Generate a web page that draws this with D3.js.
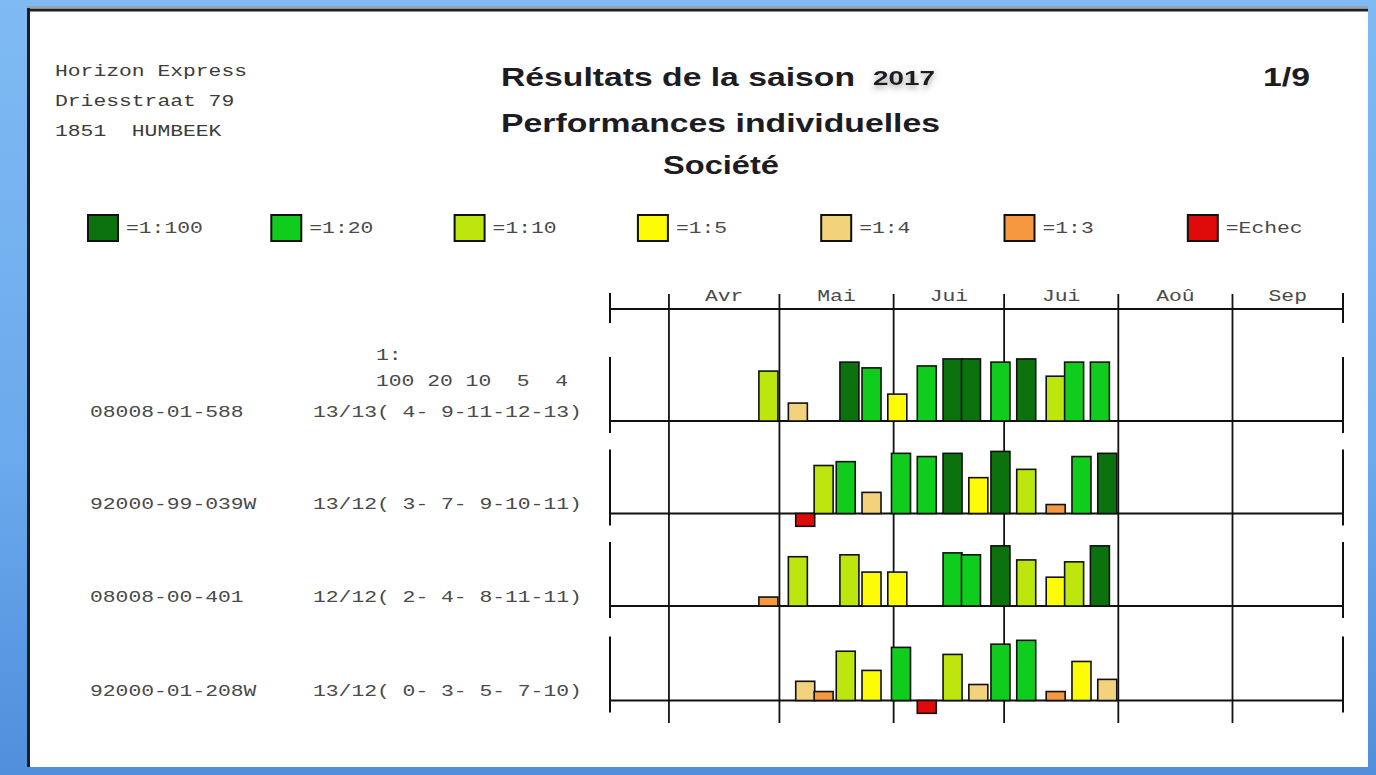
<!DOCTYPE html>
<html>
<head>
<meta charset="utf-8">
<script src="https://cdn.jsdelivr.net/npm/d3@7"></script>
<style>
  body { margin: 0; overflow: hidden; }
</style>
</head>
<body>
<svg id="chart" width="1376" height="775"></svg>
<script>
// ---- data ----
const clubLines = ["Horizon Express", "Driesstraat 79", "1851  HUMBEEK"];
const season = "2017";
const pageLabel = "1/9";

const legendCodes = ["100", "20", "10", "5", "4", "3", "E"];
const legendLabels = ["=1:100", "=1:20", "=1:10", "=1:5", "=1:4", "=1:3", "=Echec"];

const monthStarts = ["2017-04-01", "2017-05-01", "2017-06-01", "2017-07-01", "2017-08-01", "2017-09-01"];
const monthLabels = ["Avr", "Mai", "Jui", "Jui", "Aoû", "Sep"];

const rings = ["08008-01-588", "92000-99-039W", "08008-00-401", "92000-01-208W"];
const summaries = ["13/13( 4- 9-11-12-13)", "13/12( 3- 7- 9-10-11)", "12/12( 2- 4- 8-11-11)", "13/12( 0- 3- 5- 7-10)"];

// row 1
const dates1 = ["2017-04-28", "2017-05-06", "2017-05-20", "2017-05-26", "2017-06-02", "2017-06-10", "2017-06-17",
                "2017-06-22", "2017-06-30", "2017-07-07", "2017-07-15", "2017-07-20", "2017-07-27"];
const codes1 = ["10", "4", "100", "20", "5", "20", "100", "100", "20", "100", "10", "20", "20"];
const vals1  = [78, 28, 92, 83, 42, 86, 97, 97, 92, 97, 70, 92, 92];
// row 2
const dates2 = ["2017-05-08", "2017-05-13", "2017-05-19", "2017-05-26", "2017-06-03", "2017-06-10", "2017-06-17",
                "2017-06-24", "2017-06-30", "2017-07-07", "2017-07-15", "2017-07-22", "2017-07-29"];
const codes2 = ["E", "10", "20", "4", "20", "20", "100", "5", "100", "10", "3", "20", "100"];
const vals2  = [-20, 75, 81, 33, 94, 89, 94, 56, 97, 69, 14, 89, 94];
// row 3
const dates3 = ["2017-04-28", "2017-05-06", "2017-05-20", "2017-05-26", "2017-06-02", "2017-06-17",
                "2017-06-22", "2017-06-30", "2017-07-07", "2017-07-15", "2017-07-20", "2017-07-27"];
const codes3 = ["3", "10", "10", "5", "5", "20", "20", "100", "10", "5", "10", "100"];
const vals3  = [14, 77, 80, 53, 53, 83, 80, 94, 72, 45, 69, 94];
// row 4
const dates4 = ["2017-05-08", "2017-05-13", "2017-05-19", "2017-05-26", "2017-06-03", "2017-06-10", "2017-06-17",
                "2017-06-24", "2017-06-30", "2017-07-07", "2017-07-15", "2017-07-22", "2017-07-29"];
const codes4 = ["4", "3", "10", "5", "20", "E", "10", "4", "20", "20", "3", "5", "4"];
const vals4  = [30, 14, 77, 47, 83, -20, 72, 25, 88, 94, 14, 61, 33];

const rowDates = [dates1, dates2, dates3, dates4];
const rowCodes = [codes1, codes2, codes3, codes4];
const rowVals = [vals1, vals2, vals3, vals4];

// ---- drawing ----
const svg = d3.select("#chart");
const parse = d3.utcParse("%Y-%m-%d");
const ink = "#111";
const mono = "'Courier New', 'Liberation Mono', monospace";
const sans = "Arial, 'Liberation Sans', sans-serif";
const charW = 12.8;

const color = d3.scaleOrdinal()
  .domain(legendCodes)
  .range(["#0b720d", "#10cc1c", "#bde60f", "#fdfb05", "#f3d27c", "#f5983f", "#e00a0a"]);

const x = d3.scaleUtc()
  .domain([parse("2017-03-16"), parse("2017-10-01")])
  .range([610, 1343]);

const h = d3.scaleLinear().domain([0, 100]).range([0, 64]);

// background + page
const defs = svg.append("defs");
const bg = defs.append("linearGradient").attr("id", "bg")
  .attr("x1", 0).attr("y1", 0).attr("x2", 0).attr("y2", 1);
bg.append("stop").attr("offset", "0%").attr("stop-color", "#7fbaf3");
bg.append("stop").attr("offset", "60%").attr("stop-color", "#6aa9ec");
bg.append("stop").attr("offset", "100%").attr("stop-color", "#4f8fdc");
const shadow = defs.append("filter").attr("id", "shadow")
  .attr("x", "-30%").attr("y", "-30%").attr("width", "160%").attr("height", "180%");
shadow.append("feDropShadow").attr("dx", 0).attr("dy", 3).attr("stdDeviation", 3)
  .attr("flood-color", "#777").attr("flood-opacity", 0.7);

svg.append("rect").attr("width", 1376).attr("height", 775).attr("fill", "url(#bg)");
svg.append("rect").attr("x", 27).attr("y", 8).attr("width", 1341).attr("height", 759).attr("fill", "#fff");
svg.append("line").attr("x1", 27).attr("x2", 1368).attr("y1", 7).attr("y2", 7)
  .attr("stroke", "#9aa4ae").attr("stroke-width", 2);
svg.append("line").attr("x1", 27).attr("x2", 1368).attr("y1", 10).attr("y2", 10)
  .attr("stroke", "#1b1f24").attr("stroke-width", 3);
svg.append("line").attr("x1", 28.5).attr("x2", 28.5).attr("y1", 8).attr("y2", 767)
  .attr("stroke", "#1b1f24").attr("stroke-width", 3);

function monoText(str, tx, ty, fill) {
  return svg.append("text")
    .attr("x", tx).attr("y", ty)
    .attr("font-family", mono).attr("font-size", 16)
    .attr("fill", fill || "#4a4a4a")
    .attr("textLength", str.length * charW)
    .attr("lengthAdjust", "spacingAndGlyphs")
    .attr("xml:space", "preserve")
    .style("white-space", "pre")
    .text(str);
}

function titleText(str, tx, ty, size, len) {
  return svg.append("text")
    .attr("x", tx).attr("y", ty)
    .attr("font-family", sans).attr("font-weight", "bold").attr("font-size", size)
    .attr("fill", "#1c1c22")
    .attr("textLength", len).attr("lengthAdjust", "spacingAndGlyphs")
    .text(str);
}

// club address
clubLines.forEach((s, i) => monoText(s, 55, 76 + i * 30, "#3c3c3c"));

// titles
titleText("Résultats de la saison", 501, 86, 26, 354);
titleText(season, 873, 85, 21, 62).attr("filter", "url(#shadow)");
titleText("Performances individuelles", 501, 132, 26, 439);
titleText("Société", 663, 174, 26, 116);
titleText(pageLabel, 1263, 86, 26, 47);

// legend
const legend = svg.selectAll("g.legend")
  .data(legendCodes)
  .enter().append("g")
  .attr("class", "legend")
  .attr("transform", (d, i) => `translate(${88 + i * 183.3},215)`);
legend.append("rect")
  .attr("width", 30).attr("height", 26)
  .attr("fill", d => color(d))
  .attr("stroke", ink).attr("stroke-width", 2);
legend.each(function(d, i) {
  const s = legendLabels[i];
  d3.select(this).append("text")
    .attr("x", 38).attr("y", 18)
    .attr("font-family", mono).attr("font-size", 16).attr("fill", "#4a4a4a")
    .attr("textLength", s.length * charW).attr("lengthAdjust", "spacingAndGlyphs")
    .text(s);
});

// time header
const headerY = 309;
const gridTop = 294, gridBottom = 723;
svg.append("line")
  .attr("x1", x.range()[0]).attr("x2", x.range()[1])
  .attr("y1", headerY).attr("y2", headerY)
  .attr("stroke", ink).attr("stroke-width", 2);
svg.selectAll("line.end")
  .data(x.range())
  .enter().append("line").attr("class", "end")
  .attr("x1", d => d).attr("x2", d => d)
  .attr("y1", 293).attr("y2", 323)
  .attr("stroke", ink).attr("stroke-width", 2);

const starts = monthStarts.map(parse);
svg.selectAll("line.month")
  .data(starts)
  .enter().append("line").attr("class", "month")
  .attr("x1", d => x(d)).attr("x2", d => x(d))
  .attr("y1", gridTop).attr("y2", gridBottom)
  .attr("stroke", ink).attr("stroke-width", 1.8);

svg.selectAll("text.month")
  .data(starts)
  .enter().append("text").attr("class", "month")
  .attr("x", d => (x(d) + x(d3.utcMonth.offset(d, 1))) / 2)
  .attr("y", 301)
  .attr("text-anchor", "middle")
  .attr("font-family", mono).attr("font-size", 16).attr("fill", "#4a4a4a")
  .attr("textLength", (d, i) => monthLabels[i].length * charW)
  .attr("lengthAdjust", "spacingAndGlyphs")
  .text((d, i) => monthLabels[i]);

// column header for the prize counts
monoText("1:", 376, 360);
monoText("100 20 10  5  4", 376, 386);

// rows
const rowBase = [421, 513.5, 606, 700.5];
const barW = 19;

rowBase.forEach((base, r) => {
  monoText(rings[r], 90, base - 4.5);
  monoText(summaries[r], 313, base - 4.5);

  const rows = rowDates[r].map((d, i) => ({
    date: parse(d), code: rowCodes[r][i], value: rowVals[r][i]
  }));

  const g = svg.append("g").attr("class", "row");
  g.selectAll("line.tick")
    .data(x.range())
    .enter().append("line").attr("class", "tick")
    .attr("x1", d => d).attr("x2", d => d)
    .attr("y1", base - 64).attr("y2", base + 12)
    .attr("stroke", ink).attr("stroke-width", 2);
  g.append("line")
    .attr("x1", x.range()[0]).attr("x2", x.range()[1])
    .attr("y1", base).attr("y2", base)
    .attr("stroke", ink).attr("stroke-width", 2);

  g.selectAll("rect.bar")
    .data(rows)
    .enter().append("rect").attr("class", "bar")
    .attr("x", d => x(d.date) - barW / 2)
    .attr("width", barW)
    .attr("y", d => d.value >= 0 ? base - h(d.value) : base)
    .attr("height", d => h(Math.abs(d.value)))
    .attr("fill", d => color(d.code))
    .attr("stroke", ink)
    .attr("stroke-width", 1.6);
});
</script>
</body>
</html>
